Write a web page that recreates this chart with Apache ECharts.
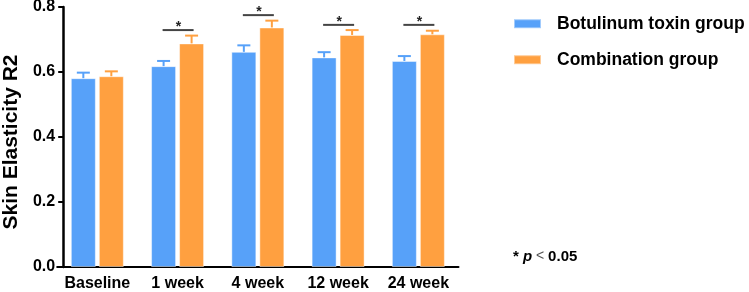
<!DOCTYPE html>
<html>
<head>
<meta charset="utf-8">
<script src="https://cdn.jsdelivr.net/npm/echarts@6/dist/echarts.min.js"></script>
<style>
  html, body { margin: 0; padding: 0; background: #fff; }
  #main { width: 749px; height: 292px; }
</style>
</head>
<body>
<div id="main"></div>
<script>
// data
let categories = ['Baseline', '1 week', '4 week', '12 week', '24 week'];
let seriesNames = ['Botulinum toxin group', 'Combination group'];
let botoxMean = [0.581, 0.618, 0.662, 0.645, 0.634];
let botoxSd = [0.017, 0.016, 0.020, 0.016, 0.015];
let comboMean = [0.587, 0.688, 0.737, 0.714, 0.716];
let comboSd = [0.015, 0.024, 0.021, 0.015, 0.011];
let sigLevel = [null, 0.729, 0.775, 0.745, 0.745]; // height of the * bracket
let yTicks = [0, 0.2, 0.4, 0.6, 0.8];

let font = '"Liberation Sans", Arial, sans-serif';
let colors = ['#57a1f9', '#ffa040'];
let barW = 25;
let barGapPx = 3;

let chart = echarts.init(document.getElementById('main'));

function errorSeries(mean, sd, idx) {
    let shift = (idx === 0 ? -1 : 1) * (barW + barGapPx) / 2;
    return {
        type: 'custom',
        name: 'err' + idx,
        z: 3,
        silent: true,
        data: mean.map((m, i) => [i, m, m + sd[i]]),
        renderItem: function (params, api) {
            let base = api.coord([api.value(0), api.value(1)]);
            let top = api.coord([api.value(0), api.value(2)]);
            let x = base[0] + shift;
            let st = { stroke: colors[idx], lineWidth: 2 };
            return {
                type: 'group',
                children: [
                    { type: 'line', shape: { x1: x, y1: base[1], x2: x, y2: top[1] }, style: st },
                    { type: 'line', shape: { x1: x - 6.5, y1: top[1], x2: x + 6.5, y2: top[1] }, style: st }
                ]
            };
        }
    };
}

let option = {
    backgroundColor: '#fff',
    animation: false,
    grid: { left: 57.2, right: 290.5, top: 7, bottom: 25, containLabel: false, outerBoundsMode: 'none' },
    legend: {
        data: seriesNames,
        orient: 'vertical',
        left: 513,
        top: 14.7,
        padding: 0,
        itemWidth: 27,
        itemHeight: 9,
        itemGap: 18,
        icon: 'rect',
        textStyle: {
            fontFamily: font,
            fontWeight: 'bold',
            fontSize: 17.5,
            lineHeight: 18,
            color: '#000',
            padding: [0, 0, 0, 11]
        }
    },
    xAxis: {
        type: 'category',
        data: categories,
        axisLine: { lineStyle: { color: '#000', width: 2 } },
        axisTick: { alignWithLabel: true, length: 5, lineStyle: { color: '#000', width: 2 } },
        axisLabel: { interval: 0, color: '#000', fontFamily: font, fontWeight: 'bold', fontSize: 16, margin: 9 }
    },
    yAxis: {
        type: 'value',
        min: 0,
        max: 0.8,
        interval: 0.2,
        offset: -6,
        name: 'Skin Elasticity R2',
        nameLocation: 'middle',
        nameGap: 41,
        nameTextStyle: { color: '#000', fontFamily: font, fontWeight: 'bold', fontSize: 21, padding: [0, 10, 0, 0] },
        axisLine: { show: true, lineStyle: { color: '#000', width: 2.5 } },
        axisTick: { show: true, length: 5, lineStyle: { color: '#000', width: 2 } },
        axisLabel: {
            color: '#000', fontFamily: font, fontWeight: 'bold', fontSize: 16, margin: 8,
            formatter: v => yTicks.indexOf(v) >= 0 ? v.toFixed(1) : ''
        },
        splitLine: { show: false }
    },
    series: [
        {
            name: seriesNames[0],
            type: 'bar',
            data: botoxMean,
            barWidth: barW,
            barGap: (barGapPx / barW * 100) + '%',
            itemStyle: { color: colors[0], borderColor: 'rgba(255,255,255,0.45)', borderWidth: 1 }
        },
        {
            name: seriesNames[1],
            type: 'bar',
            data: comboMean,
            barWidth: barW,
            itemStyle: { color: colors[1], borderColor: 'rgba(255,255,255,0.45)', borderWidth: 1 }
        },
        errorSeries(botoxMean, botoxSd, 0),
        errorSeries(comboMean, comboSd, 1),
        {
            type: 'custom',
            name: 'sig',
            silent: true,
            z: 4,
            data: sigLevel.map((v, i) => [i, v]).filter(d => d[1] !== null),
            renderItem: function (params, api) {
                let p = api.coord([api.value(0), api.value(1)]);
                return {
                    type: 'group',
                    children: [
                        { type: 'line', shape: { x1: p[0] - 15, y1: p[1], x2: p[0] + 16, y2: p[1] },
                          style: { stroke: '#444', lineWidth: 2 } },
                        { type: 'text', x: p[0] + 1, y: p[1] - 3,
                          style: { text: '*', fill: '#222', font: 'bold 14px ' + font,
                                   textAlign: 'center', textVerticalAlign: 'middle' } }
                    ]
                };
            }
        }
    ],
    graphic: [
        {
            type: 'text',
            left: 513,
            top: 249,
            style: {
                text: '{a|* }{p|p}{lt| < }{a|0.05}',
                rich: {
                    a: { fontFamily: font, fontWeight: 'bold', fontSize: 15, fill: '#000' },
                    p: { fontFamily: font, fontWeight: 'bold', fontStyle: 'italic', fontSize: 15, fill: '#000' },
                    lt: { fontFamily: font, fontWeight: 'normal', fontSize: 14, fill: '#555' }
                }
            }
        }
    ]
};

chart.setOption(option);
</script>
</body>
</html>
